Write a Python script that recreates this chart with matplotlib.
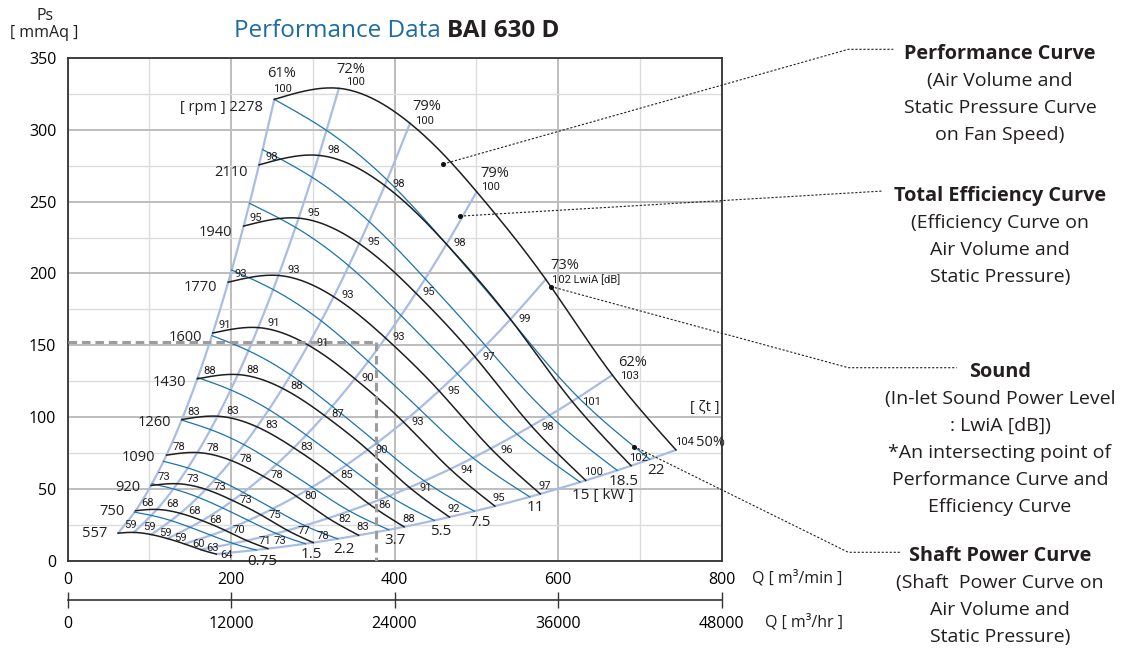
import numpy as np
import matplotlib
matplotlib.use("Agg")
import matplotlib.pyplot as plt
from matplotlib.lines import Line2D

# ---------------- data ----------------
rpm = [557, 750, 920, 1090, 1260, 1430, 1600, 1770, 1940, 2110, 2278]
eff_labels = ['61%', '72%', '79%', '79%', '73%', '62%', '50%']
kw_labels = ['0.75', '1.5', '2.2', '3.7', '5.5', '7.5', '11', '15', '18.5', '22']

# performance curves: air volume Q [m3/min] / static pressure Ps [mmAq]
# at the crossings with the 7 efficiency lines (one row per rpm)
perf_q = [
    [61.9, 81.2, 102.4, 122.4, 143.0, 162.9, 182.0],
    [83.3, 109.3, 138.0, 164.8, 192.6, 219.4, 245.1],
    [102.2, 134.1, 169.2, 202.1, 236.3, 269.1, 300.6],
    [121.1, 158.9, 200.5, 239.5, 279.9, 318.9, 356.1],
    [139.9, 183.6, 231.8, 276.8, 323.6, 368.6, 411.7],
    [158.8, 208.4, 263.0, 314.2, 367.2, 418.3, 467.2],
    [177.7, 233.2, 294.3, 351.5, 410.9, 468.1, 522.8],
    [196.6, 258.0, 325.6, 388.9, 454.5, 517.8, 578.3],
    [215.5, 282.7, 356.8, 426.2, 498.2, 567.5, 633.9],
    [234.3, 307.5, 388.1, 463.6, 541.9, 617.3, 689.4],
    [253.0, 332.0, 419.0, 500.5, 585.0, 666.4, 744.3],
]
perf_ps = [
    [19.2, 19.7, 18.2, 15.4, 11.7, 7.7, 4.6],
    [34.8, 35.7, 33.0, 27.9, 21.2, 14.0, 8.4],
    [52.4, 53.6, 49.7, 41.9, 32.0, 21.1, 12.6],
    [73.5, 75.3, 69.7, 58.8, 44.9, 29.6, 17.7],
    [98.3, 100.6, 93.2, 78.6, 59.9, 39.6, 23.6],
    [126.6, 129.6, 120.0, 101.2, 77.2, 51.0, 30.4],
    [158.5, 162.3, 150.2, 126.7, 96.6, 63.8, 38.0],
    [193.9, 198.6, 183.8, 155.1, 118.3, 78.1, 46.5],
    [233.0, 238.5, 220.8, 186.3, 142.1, 93.8, 55.9],
    [275.6, 282.2, 261.2, 220.4, 168.1, 110.9, 66.1],
    [321.2, 328.9, 304.5, 256.9, 195.9, 129.3, 77.1],
]
# in-let sound power level LwiA [dB] at the same crossings
sound = [
    [59, 59, 59, 59, 60, 63, 64],
    [68, 68, 68, 68, 70, 71, 73],
    [73, 73, 73, 73, 75, 77, 78],
    [78, 78, 78, 78, 80, 82, 83],
    [83, 83, 83, 83, 85, 86, 88],
    [88, 88, 88, 87, 90, 91, 92],
    [91, 91, 91, 90, 93, 94, 95],
    [93, 93, 93, 93, 95, 96, 97],
    [95, 95, 95, 95, 97, 98, 100],
    [98, 98, 98, 98, 99, 101, 102],
    [100, 100, 100, 100, 102, 103, 104],
]
# shaft power curves: crossings with the 7 efficiency lines (one row per kW)
power_q = [
    [82.0, 102.8, 126.8, 150.3, 175.7, 202.6, 231.0],
    [103.4, 129.5, 159.7, 189.4, 221.3, 255.2, 291.0],
    [117.4, 147.1, 181.5, 215.2, 251.5, 290.0, 330.6],
    [139.7, 174.9, 215.8, 255.9, 299.1, 344.9, 393.2],
    [159.4, 199.6, 246.3, 292.0, 341.3, 393.6, 448.8],
    [176.7, 221.4, 273.1, 323.8, 378.5, 436.5, 497.6],
    [200.8, 251.5, 310.3, 367.9, 430.0, 495.9, 565.4],
    [222.7, 278.9, 344.1, 408.0, 476.9, 549.9, 627.0],
    [238.8, 299.1, 369.0, 437.5, 511.4, 589.7, 672.4],
    [253.0, 316.9, 390.9, 463.5, 541.8, 624.8, 712.3],
]
power_ps = [
    [33.8, 31.5, 27.9, 23.2, 17.7, 12.0, 7.4],
    [53.6, 50.0, 44.2, 36.8, 28.0, 19.0, 11.8],
    [69.2, 64.6, 57.1, 47.5, 36.2, 24.5, 15.2],
    [97.9, 91.3, 80.8, 67.1, 51.2, 34.6, 21.5],
    [127.5, 118.9, 105.2, 87.5, 66.7, 45.1, 28.0],
    [156.7, 146.2, 129.3, 107.5, 82.0, 55.5, 34.5],
    [202.4, 188.8, 167.0, 138.8, 105.9, 71.6, 44.5],
    [248.8, 232.1, 205.3, 170.7, 130.2, 88.1, 54.7],
    [286.2, 267.0, 236.1, 196.3, 149.7, 101.3, 62.9],
    [321.2, 299.6, 265.1, 220.4, 168.0, 113.7, 70.6],
]
# operating point (dashed guide)
op_q, op_ps = 377, 152
# call-out anchor points (performance, efficiency, sound, shaft power)
callout_q = [459.7, 480.1, 591.4, 693.3]
callout_ps = [276.2, 239.9, 190.9, 79.4]
callout_titles = ['Performance Curve', 'Total Efficiency Curve', 'Sound', 'Shaft Power Curve']
callout_lines = [
    ['(Air Volume and', 'Static Pressure Curve', 'on Fan Speed)'],
    ['(Efficiency Curve on', 'Air Volume and', 'Static Pressure)'],
    ['(In-let Sound Power Level', ': LwiA [dB])', '*An intersecting point of',
     'Performance Curve and', 'Efficiency Curve'],
    ['(Shaft  Power Curve on', 'Air Volume and', 'Static Pressure)'],
]
x_ticks = [0, 200, 400, 600, 800]
y_ticks = [0, 50, 100, 150, 200, 250, 300, 350]
x2_ticks = [0, 12000, 24000, 36000, 48000]

# ---------------- helpers ----------------
def spline1d(t, y, n):
    t = np.asarray(t, float); y = np.asarray(y, float)
    m = len(t); h = np.diff(t)
    A = np.zeros((m, m)); b = np.zeros(m)
    A[0, 0] = A[-1, -1] = 1
    for i in range(1, m - 1):
        A[i, i - 1] = h[i - 1]; A[i, i] = 2 * (h[i - 1] + h[i]); A[i, i + 1] = h[i]
        b[i] = 3 * ((y[i + 1] - y[i]) / h[i] - (y[i] - y[i - 1]) / h[i - 1])
    c = np.linalg.solve(A, b)
    tt = np.linspace(t[0], t[-1], n)
    idx = np.clip(np.searchsorted(t, tt, side='right') - 1, 0, m - 2)
    dt = tt - t[idx]
    bb = (y[idx + 1] - y[idx]) / h[idx] - h[idx] * (2 * c[idx] + c[idx + 1]) / 3
    d = (c[idx + 1] - c[idx]) / (3 * h[idx])
    return y[idx] + bb * dt + c[idx] * dt ** 2 + d * dt ** 3

def smooth(x, y, n=300):
    x = np.asarray(x, float); y = np.asarray(y, float)
    seg = np.hypot(np.diff(x), np.diff(y) * 1.757)
    t = np.concatenate([[0], np.cumsum(seg)])
    return spline1d(t, x, n), spline1d(t, y, n)

# ---------------- figure ----------------
W, H = 1128, 653
SANS = ['Open Sans', 'DejaVu Sans']
NARROW = ['Roboto', 'DejaVu Sans']
plt.rcParams['font.family'] = SANS
plt.rcParams['text.color'] = '#231f20'

fig = plt.figure(figsize=(W / 100, H / 100), dpi=100)
fig.patch.set_facecolor('white')
ax = fig.add_axes([67.5 / W, 1 - 560.7 / H, 654 / W, 502.7 / H])
ax.set_xlim(0, 800)
ax.set_ylim(0, 350)

ax.set_xticks(x_ticks)
ax.set_xticks(np.arange(100, 800, 200), minor=True)
ax.set_yticks(y_ticks)
ax.set_yticks(np.arange(25, 350, 50), minor=True)
ax.grid(which='major', color='#bdbdbd', lw=1.4, zorder=0)
ax.grid(which='minor', color='#dcdcdc', lw=1.0, zorder=0)
ax.set_axisbelow(True)
ax.tick_params(which='both', length=0)
ax.tick_params(axis='x', pad=8, labelsize=11.5)
ax.tick_params(axis='y', pad=8, labelsize=11.5)
for s in ax.spines.values():
    s.set_color('#333333'); s.set_linewidth(1.3)

SYS_C = '#a9bde2'
PWR_C = '#1c74ad'
PERF_C = '#1e1e1e'

# efficiency (system) lines
n_eff = len(eff_labels)
for j in range(n_eff):
    xs, ys = smooth([r[j] for r in perf_q], [r[j] for r in perf_ps])
    ax.plot(xs, ys, color=SYS_C, lw=1.6, zorder=2, solid_capstyle='round')

# shaft power lines
for k in range(len(kw_labels)):
    xs, ys = smooth(power_q[k], power_ps[k])
    ax.plot(xs, ys, color=PWR_C, lw=0.9, zorder=3)

# performance curves
for i in range(len(rpm)):
    xs, ys = smooth(perf_q[i], perf_ps[i])
    ax.plot(xs, ys, color=PERF_C, lw=1.1, zorder=4)

# operating point guides
ax.plot([0, op_q], [op_ps, op_ps], color='#9c9c9c', lw=2.2, ls=(0, (2.8, 1.6)), zorder=5)
ax.plot([op_q, op_q], [op_ps, 0], color='#9c9c9c', lw=2.2, ls=(0, (2.8, 1.6)), zorder=5)

# sound labels
top = len(rpm) - 1
col_off = [(6, 8), (9, 5), (8, 2), (7, 1), (8, 0), (10, -1), (-2, 8)]
top_off = [(-1, 10), (7, 6), (5, 2), (4, 5), (6, 0), (8, -1), (-1, 8)]
low_off = {(0, 5): (6, 2), (0, 6): (4, -1), (1, 5): (12, 0), (1, 6): (6, 8),
           (2, 6): (3, 7)}
for i in range(len(rpm)):
    for j in range(n_eff):
        txt = str(sound[i][j])
        off = top_off[j] if i == top else low_off.get((i, j), col_off[j])
        if i == top and j == 4:
            txt += ' LwiA [dB]'
        ax.annotate(txt, (perf_q[i][j], perf_ps[i][j]), xytext=off,
                    textcoords='offset pixels', ha='left', va='center',
                    fontsize=8.1, family=NARROW, zorder=6)

# efficiency labels (top)
eff_off = [(7, 26), (12, 19), (17, 17), (18, 18), (19, 14), (20, 12)]
for j in range(n_eff):
    if j < n_eff - 1:
        ax.annotate(eff_labels[j], (perf_q[top][j], perf_ps[top][j]), xytext=eff_off[j],
                    textcoords='offset pixels', ha='center', va='center', fontsize=10.5,
                    zorder=6, annotation_clip=False)
    else:
        ax.annotate(eff_labels[j], (perf_q[top][j], perf_ps[top][j]), xytext=(20, 7),
                    textcoords='offset pixels', ha='left', va='center', fontsize=10.5,
                    zorder=6, annotation_clip=False)

# rpm labels
for i in range(len(rpm)):
    lab = ('[ rpm ] ' if i == top else '') + str(rpm[i])
    ax.annotate(lab, (perf_q[i][0], perf_ps[i][0]), xytext=(-11, -8 * i / 10),
                textcoords='offset pixels', ha='right', va='center', fontsize=10.5, zorder=6)

# kW labels
for k in range(len(kw_labels)):
    if kw_labels[k] == '15':
        ax.annotate('15 [ kW ]', (power_q[k][-1], power_ps[k][-1]), xytext=(-8, -13),
                    textcoords='offset pixels', ha='left', va='center', fontsize=11, zorder=6)
    else:
        ax.annotate(kw_labels[k], (power_q[k][-1], power_ps[k][-1]), xytext=(6, -11),
                    textcoords='offset pixels', ha='center', va='center', fontsize=11,
                    zorder=6, annotation_clip=False)

ax.text(780, 107, '[ ζt ]', ha='center', va='center', fontsize=10.5)

# secondary axis (m3/hr)
sec = ax.secondary_xaxis(-0.079, functions=(lambda q: q * 60, lambda h: h / 60))
sec.set_xticks(x2_ticks)
sec.tick_params(direction='inout', length=12, width=1.0, pad=5, labelsize=11.5, color='#333333')
sec.spines['bottom'].set_color('#333333')
sec.spines['bottom'].set_linewidth(1.2)

def fp(x, y):
    return x / W, 1 - y / H

fig.text(*fp(797, 578), 'Q [ m³/min ]', ha='center', va='center', fontsize=11.5)
fig.text(*fp(804, 622), 'Q [ m³/hr ]', ha='center', va='center', fontsize=11.5)
fig.text(*fp(45, 16), 'Ps', ha='center', va='center', fontsize=11.5)
fig.text(*fp(44, 33), '[ mmAq ]', ha='center', va='center', fontsize=11.5)

# title
t1 = fig.text(*fp(234, 37), 'Performance Data ', color='#1a6ca3', fontsize=17.5,
              ha='left', va='baseline')
ax.annotate('BAI 630 D', xy=(1, 0), xycoords=t1, ha='left', va='bottom', fontsize=17.5,
            weight='bold', annotation_clip=False)

# call-outs
fig.canvas.draw()
to_fig = fig.transFigure.inverted()
elbows = [[(848.3, 49.3), (893.3, 49.3)],
          [(883.3, 191.0)],
          [(848.3, 367.7), (956.7, 367.7)],
          [(848.3, 552.3), (900.0, 552.3)]]
for c in range(len(callout_q)):
    p0 = to_fig.transform(ax.transData.transform((callout_q[c], callout_ps[c])))
    pts = [tuple(p0)] + [fp(*e) for e in elbows[c]]
    xs = [p[0] for p in pts]; ys = [p[1] for p in pts]
    fig.add_artist(Line2D(xs, ys, color='#222222', lw=0.8, ls=(0, (2, 1.6)),
                          transform=fig.transFigure, zorder=7))
    fig.add_artist(Line2D([p0[0]], [p0[1]], marker='o', ms=2.6, color='#111111',
                          transform=fig.transFigure, zorder=8))

title_base = [59, 201, 377, 561]
for c in range(len(callout_titles)):
    y0 = title_base[c]
    fig.text(*fp(1000, y0), callout_titles[c], ha='center', va='baseline',
             fontsize=14.3, weight='bold')
    for m, line in enumerate(callout_lines[c]):
        fig.text(*fp(1000, y0 + 27 * (m + 1)), line, ha='center', va='baseline', fontsize=14)

fig.savefig('out.png', dpi=100, facecolor='white')
